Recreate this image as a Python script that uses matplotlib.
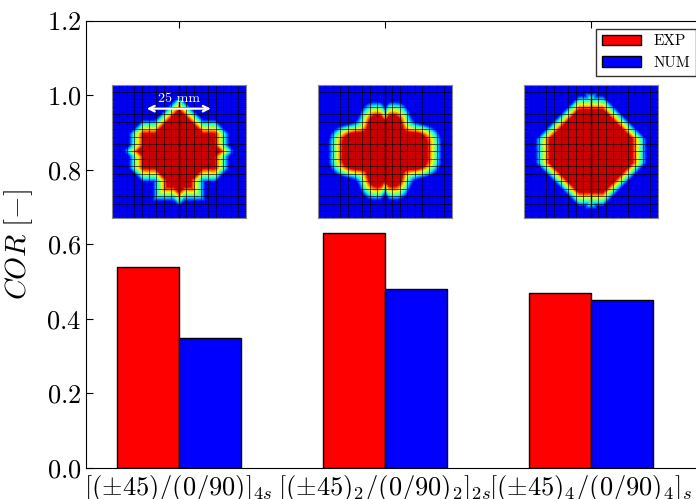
import numpy as np
import matplotlib
matplotlib.use("Agg")
import matplotlib.pyplot as plt

plt.rcParams['mathtext.fontset'] = 'cm'
plt.rcParams['font.family'] = ['cmr10', 'DejaVu Serif']
plt.rcParams['axes.unicode_minus'] = False

# data
layups = [r'$[(\pm45)/(0/90)]_{4s}$',
          r'$[(\pm45)_2/(0/90)_2]_{2s}$',
          r'$[(\pm45)_4/(0/90)_4]_s$']
cor_exp = [0.54, 0.63, 0.47]
cor_num = [0.35, 0.48, 0.45]
yticks = [0.0, 0.2, 0.4, 0.6, 0.8, 1.0, 1.2]

x = np.arange(len(layups))
w = 0.3

fig = plt.figure(figsize=(6.96, 4.99), dpi=100)
ax = fig.add_axes([0.1236, 0.0621, 0.888, 0.896])

ax.bar(x - w, cor_exp, w, align='edge', color='#ff0000', edgecolor='k', lw=1, label='EXP')
ax.bar(x, cor_num, w, align='edge', color='#0000ff', edgecolor='k', lw=1, label='NUM')

ax.set_xlim(-0.45, 2.55)
ax.set_ylim(0, 1.2)
ax.set_xticks(x)
ax.set_xticklabels(layups, fontsize=19)
ax.set_yticks(yticks)
ax.set_yticklabels([r'$%.1f$' % v for v in yticks], fontsize=19)
ax.tick_params(direction='in', top=True, right=True, length=5)
ax.set_ylabel(r'$COR\ [-]$', fontsize=21, labelpad=8)

leg = ax.legend(loc='upper right', fontsize=11, fancybox=False, edgecolor='k',
                borderaxespad=0.5, handlelength=2.6)
leg.get_frame().set_linewidth(1)


# damage maps (decorative insets)
def damage_map(kind, n=200):
    g = np.linspace(-1, 1, n)
    X, Y = np.meshgrid(g, -g)
    ax_, ay_ = np.abs(X), np.abs(Y)
    r = np.hypot(X, Y)
    t = np.arctan2(Y, X)
    if kind == 0:
        d_dia = 0.74 - (ax_ + ay_)
        d_side = np.minimum(np.minimum(0.66 - ax_, 0.38 - ay_), 0.92 - (ax_ + ay_))
        d_bot = np.minimum(np.minimum(0.30 - ax_, 0.66 + Y), -Y)
        d = np.maximum(np.maximum(d_dia, d_side), d_bot)
    elif kind == 1:
        b = 0.66 * (1 + 0.12 * np.cos(4 * t) - 0.06 * np.cos(8 * t)) * (1 + 0.08 * np.cos(2 * t))
        d = b - r
        d -= 0.07 * np.exp(-(X / 0.04) ** 2) * (ay_ > 0.45)
    else:
        d = np.minimum(0.92 - (ax_ + ay_), 0.74 - np.maximum(ax_, ay_))
        d = np.maximum(d, np.minimum(0.08 - ax_, 0.86 - ay_) - 0.08)
    v = np.clip(0.45 + d / 0.22, 0, 1)
    return 0.1 + 0.83 * v


for i, xc in enumerate(x):
    ins = ax.inset_axes([xc - 0.325, 0.668, 0.65, 0.363], transform=ax.transData)
    ins.imshow(damage_map(i), cmap='jet', vmin=0, vmax=1, extent=[0, 1, 0, 1],
               interpolation='bilinear')
    for k in np.linspace(0, 1, 19):
        ins.axvline(k, color='k', lw=0.45)
        ins.axhline(k, color='k', lw=0.45)
    ins.axvline(0.5, color='k', lw=1.0)
    ins.set_xticks([])
    ins.set_yticks([])
    for s in ins.spines.values():
        s.set_color('#888888')
        s.set_linewidth(0.8)
    if i == 0:
        ins.annotate('', xy=(0.24, 0.82), xytext=(0.76, 0.82),
                     arrowprops=dict(arrowstyle='<->', color='white', lw=1.6))
        ins.text(0.5, 0.85, '25 mm', color='white', ha='center', va='bottom', fontsize=10)

fig.savefig('out.png', dpi=100)
